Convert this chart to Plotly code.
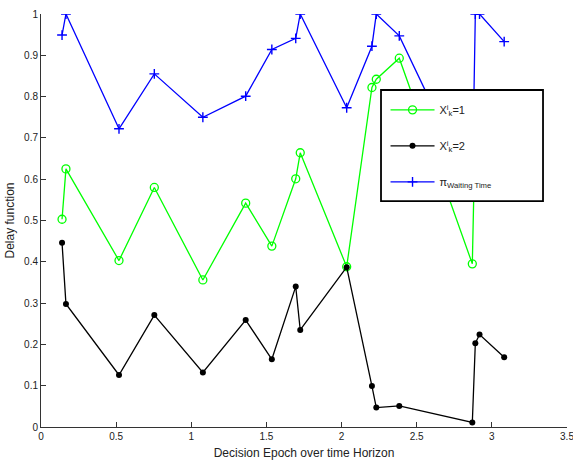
import plotly.graph_objects as go

epochs = [0.14, 0.166, 0.519, 0.754, 1.077, 1.362, 1.536, 1.695, 1.725, 2.034,
          2.202, 2.231, 2.384, 2.87, 2.89, 2.918, 3.082]
x_k1 = [0.503, 0.625, 0.403, 0.580, 0.356, 0.542, 0.438, 0.601, 0.664, 0.388,
        0.822, 0.842, 0.893, 0.395, 0.74, 0.76, 0.72]
x_k2 = [0.446, 0.298, 0.126, 0.271, 0.132, 0.259, 0.164, 0.340, 0.235, 0.387,
        0.099, 0.047, 0.051, 0.011, 0.203, 0.224, 0.169]
pi_wait = [0.949, 1.0, 0.722, 0.855, 0.750, 0.801, 0.914, 0.941, 1.0, 0.773,
           0.922, 1.0, 0.947, 0.576, 1.0, 1.0, 0.933]

names = ["X<sup>i</sup><sub>k</sub>=1", "X<sup>i</sup><sub>k</sub>=2", "π<sub>Waiting Time</sub>"]
x_ticks = [0, 0.5, 1, 1.5, 2, 2.5, 3, 3.5]
y_ticks = [0, 0.1, 0.2, 0.3, 0.4, 0.5, 0.6, 0.7, 0.8, 0.9, 1]

fig = go.Figure()
fig.add_trace(go.Scatter(x=epochs, y=x_k1, name=names[0], mode="lines+markers", legendgroup="a",
                         line=dict(color="#00ff00", width=1.3),
                         marker=dict(symbol="circle-open", size=8, color="#00ff00", line=dict(width=1.3))))
fig.add_trace(go.Scatter(x=epochs, y=x_k2, name=names[1], mode="lines+markers", legendgroup="b",
                         line=dict(color="#000000", width=1.3),
                         marker=dict(symbol="circle", size=6, color="#000000")))
fig.add_trace(go.Scatter(x=epochs, y=pi_wait, name=names[2], mode="lines+markers", legendgroup="c",
                         line=dict(color="#0000ff", width=1.3),
                         marker=dict(symbol="cross-thin-open", size=7, color="#0000ff",
                                     line=dict(width=1.4, color="#0000ff"))))

# legend box
fig.add_shape(type="rect", xref="paper", yref="paper", x0=0.6464, x1=0.9544, y0=0.547, y1=0.816,
              fillcolor="white", line=dict(color="black", width=1.8), layer="above")

axis_common = dict(showline=True, linecolor="#333", linewidth=1, ticks="inside", ticklen=5,
                   tickcolor="#333", showgrid=False, zeroline=False, mirror=False,
                   ticklabeloverflow="allow", automargin=False,
                   tickfont=dict(family="Liberation Sans, Arial", size=10, color="#222"))
fig.update_layout(
    width=573, height=462,
    margin=dict(l=41, r=6, t=14, b=35),
    plot_bgcolor="white", paper_bgcolor="white",
    font=dict(family="Liberation Sans, Arial", color="#222"),
    xaxis=dict(range=[0, 3.5], tickvals=x_ticks,
               title=dict(text="Decision Epoch over time Horizon", font=dict(size=12), standoff=7),
               **axis_common),
    yaxis=dict(range=[0, 1], tickvals=y_ticks,
               title=dict(text="Delay function", font=dict(size=12), standoff=6),
               **axis_common),
    legend=dict(x=0.655, y=0.803, xanchor="left", yanchor="top", bgcolor="rgba(0,0,0,0)",
                borderwidth=0, font=dict(size=11, color="#222"), tracegroupgap=17,
                itemwidth=44, traceorder="grouped"),
    showlegend=True,
)

fig.write_html("out.html")
